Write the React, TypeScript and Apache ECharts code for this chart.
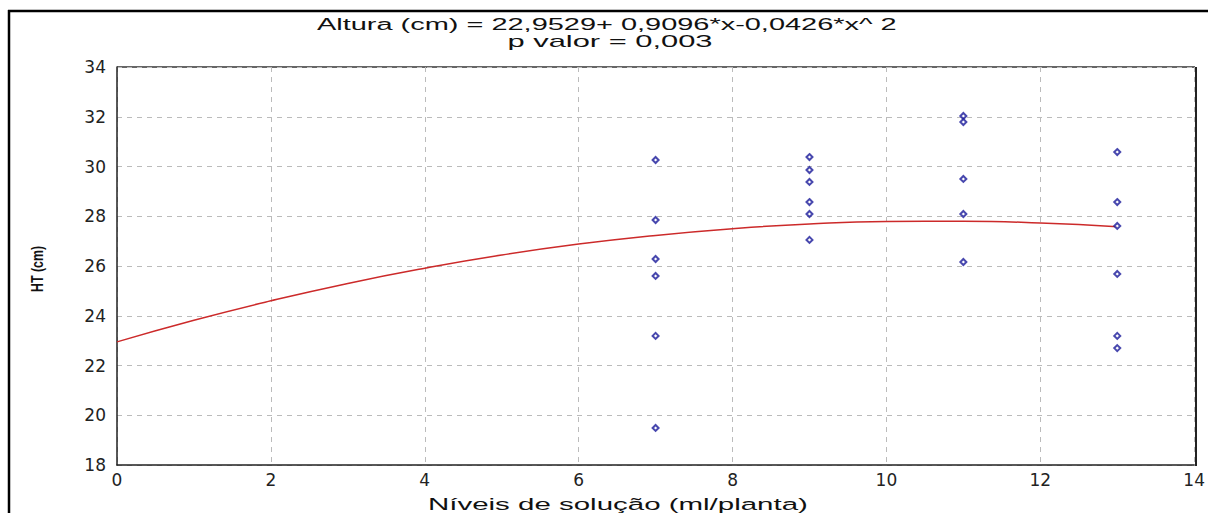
import React, { useEffect, useRef } from "react";
import * as echarts from "echarts";

const title1 = "Altura (cm) = 22,9529+ 0,9096*x-0,0426*x^ 2";
const title2 = "p valor = 0,003";
const xAxisTitle = "Níveis de solução (ml/planta)";
const yAxisTitle = "HT (cm)";

const obsX7 = [30.26, 27.85, 26.28, 25.6, 23.19, 19.49];
const obsX9 = [30.38, 29.86, 29.38, 28.57, 28.09, 27.05];
const obsX11 = [32.03, 31.79, 29.5, 28.09, 26.16];
const obsX13 = [30.58, 28.57, 27.61, 25.68, 23.19, 22.7];

const curveX = [0, 1, 2, 3, 4, 5, 6, 7, 8, 9, 10, 11, 12, 13];
const curveY = [22.95, 23.82, 24.6, 25.3, 25.91, 26.44, 26.88, 27.23, 27.5, 27.69, 27.79, 27.8, 27.73, 27.58];

const FONT = "Liberation Sans";

function measure(text: string, size: number, weight = "normal"): number {
  const c = document.createElement("canvas");
  const ctx = c.getContext("2d");
  if (!ctx) return text.length * size * 0.55;
  ctx.font = `${weight} ${size}px "${FONT}"`;
  return ctx.measureText(text).width;
}

function stretchedText(text: string, cx: number, y: number, size: number, targetWidth: number, va: string) {
  const w = measure(text, size);
  const s = targetWidth / w;
  return {
    type: "text",
    x: cx - targetWidth / 2,
    y,
    scaleX: s,
    style: { text, fontSize: size, fill: "#111", fontFamily: FONT, align: "left", verticalAlign: va },
  };
}

export default function App() {
  const ref = useRef<HTMLDivElement>(null);
  useEffect(() => {
    if (!ref.current) return;
    const chart = echarts.init(ref.current, undefined, { renderer: "svg" });
    const points: number[][] = [];
    obsX7.forEach((v) => points.push([7, v]));
    obsX9.forEach((v) => points.push([9, v]));
    obsX11.forEach((v) => points.push([11, v]));
    obsX13.forEach((v) => points.push([13, v]));
    const tickFont = "DejaVu Sans";
    const yNameW = measure(yAxisTitle, 17, "bold");
    chart.setOption({
      animation: false,
      backgroundColor: "#ffffff",
      textStyle: { fontFamily: FONT },
      grid: { left: 117, top: 67, right: 13, bottom: 48, show: false },
      xAxis: {
        type: "value",
        min: 0,
        max: 14,
        interval: 2,
        axisLine: { show: true, onZero: false, lineStyle: { color: "#222", width: 1.5 } },
        axisTick: { show: false },
        axisLabel: { fontSize: 17, color: "#222", margin: 6, fontFamily: tickFont },
        splitLine: { show: true, lineStyle: { color: "#bbb", type: [5, 5], width: 1 } },
      },
      yAxis: {
        type: "value",
        min: 18,
        max: 34,
        interval: 2,
        axisLine: { show: true, onZero: false, lineStyle: { color: "#222", width: 1.5 } },
        axisTick: { show: false },
        axisLabel: { fontSize: 17, color: "#222", margin: 11, fontFamily: tickFont },
        splitLine: { show: true, lineStyle: { color: "#bbb", type: [5, 5], width: 1 } },
      },
      graphic: [
        { type: "line", shape: { x1: 8, y1: 11, x2: 1208, y2: 11 }, style: { stroke: "#000", lineWidth: 2.5 } },
        { type: "line", shape: { x1: 9, y1: 10, x2: 9, y2: 513 }, style: { stroke: "#000", lineWidth: 2.5 } },
        { type: "line", shape: { x1: 117, y1: 67, x2: 1195, y2: 67 }, style: { stroke: "#333", lineWidth: 1.5 } },
        { type: "line", shape: { x1: 1196, y1: 67, x2: 1196, y2: 466 }, style: { stroke: "#222", lineWidth: 2 } },
        stretchedText(title1, 607, 25, 16, 580, "middle"),
        stretchedText(title2, 610, 41, 16, 205, "middle"),
        stretchedText(xAxisTitle, 618, 495, 17, 380, "top"),
        {
          type: "text",
          x: 37,
          y: 269,
          rotation: Math.PI / 2,
          scaleX: 46 / yNameW,
          style: { text: yAxisTitle, fontSize: 17, fontWeight: "bold", fill: "#111", fontFamily: FONT, align: "center", verticalAlign: "middle" },
        },
      ],
      series: [
        {
          type: "line",
          data: curveX.map((x, i) => [x, curveY[i]]),
          smooth: true,
          showSymbol: false,
          lineStyle: { color: "#cc2a2a", width: 1.5 },
          z: 3,
        },
        {
          type: "scatter",
          data: points,
          symbol: "emptyDiamond",
          symbolSize: 6,
          itemStyle: { color: "#1a1a9a", borderColor: "#1a1a9a", borderWidth: 1.5 },
          z: 4,
        },
      ],
    });
    return () => chart.dispose();
  }, []);
  return <div ref={ref} style={{ position: "fixed", left: 0, top: 0, width: 1208, height: 513 }} />;
}
